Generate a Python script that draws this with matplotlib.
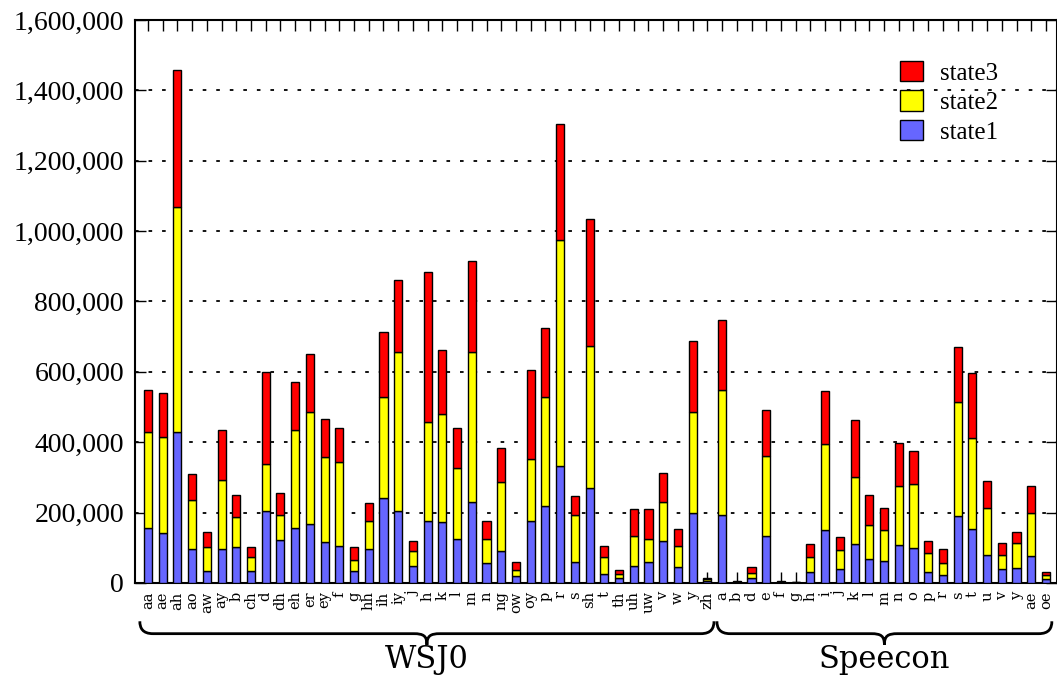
import numpy as np
import matplotlib
matplotlib.use("Agg")
import matplotlib.pyplot as plt
from matplotlib.path import Path
from matplotlib.patches import PathPatch, Patch
import matplotlib.transforms as mtransforms
from matplotlib.ticker import FuncFormatter

# phone labels, WSJ0 first then Speecon
wsj_labels = ["aa", "ae", "ah", "ao", "aw", "ay", "b", "ch", "d", "dh", "eh", "er", "ey",
              "f", "g", "hh", "ih", "iy", "j", "h", "k", "l", "m", "n", "ng", "ow", "oy",
              "p", "r", "s", "sh", "t", "th", "uh", "uw", "v", "w", "y", "zh"]
spc_labels = ["a", "b", "d", "e", "f", "g", "h", "i", "j", "k", "l", "m", "n", "o", "p",
              "r", "s", "t", "u", "v", "y", "ae", "oe"]

# segment sizes (frames per state)
wsj_state1 = [156000, 142000, 429000, 97000, 34000, 97000, 102000, 34000, 205000, 122000,
              156000, 168000, 117000, 105000, 34000, 97000, 242000, 205000, 48000, 176000,
              173000, 125000, 230000, 57000, 91000, 20000, 176000, 219000, 333000, 60000,
              270000, 26000, 14000, 48000, 60000, 119000, 45000, 199000, 6000]
wsj_state2 = [273000, 273000, 640000, 139000, 68000, 196000, 86000, 40000, 133000, 71000,
              279000, 318000, 241000, 239000, 31000, 79000, 287000, 451000, 43000, 282000,
              307000, 202000, 426000, 68000, 196000, 17000, 176000, 310000, 642000, 133000,
              404000, 48000, 12000, 86000, 65000, 111000, 60000, 287000, 5000]
wsj_state3 = [120000, 125000, 389000, 74000, 43000, 142000, 62000, 28000, 262000, 63000,
              136000, 165000, 108000, 96000, 37000, 51000, 184000, 205000, 28000, 426000,
              182000, 113000, 259000, 51000, 97000, 23000, 253000, 196000, 329000, 54000,
              361000, 31000, 11000, 76000, 85000, 83000, 48000, 202000, 3000]

spc_state1 = [193000, 2000, 14000, 134000, 2000, 1000, 31000, 151000, 40000, 111000,
              68000, 63000, 108000, 100000, 31000, 23000, 190000, 153000, 80000, 40000,
              43000, 77000, 11000]
spc_state2 = [356000, 2000, 14000, 227000, 2000, 1000, 43000, 244000, 54000, 190000,
              97000, 88000, 168000, 181000, 54000, 34000, 324000, 259000, 133000, 40000,
              71000, 122000, 12000]
spc_state3 = [198000, 2000, 17000, 131000, 2000, 1000, 37000, 151000, 37000, 162000,
              85000, 62000, 122000, 94000, 34000, 40000, 157000, 185000, 77000, 34000,
              31000, 77000, 8000]

labels = wsj_labels + spc_labels
s1 = np.array(wsj_state1 + spc_state1)
s2 = np.array(wsj_state2 + spc_state2)
s3 = np.array(wsj_state3 + spc_state3)
x = np.arange(len(labels))

c1, c2, c3 = "#6666ff", "#ffff00", "#ff0000"

fig = plt.figure(figsize=(10.57, 6.79), dpi=100)
ax = fig.add_axes([135 / 1057, 1 - 583 / 679, 922 / 1057, 563 / 679])

bw = 0.55
ax.bar(x, s1, bw, color=c1, edgecolor="black", linewidth=1.0, zorder=3)
ax.bar(x, s2, bw, bottom=s1, color=c2, edgecolor="black", linewidth=1.0, zorder=3)
ax.bar(x, s3, bw, bottom=s1 + s2, color=c3, edgecolor="black", linewidth=1.0, zorder=3)

ax.set_xlim(-0.88, len(labels) - 1 + 0.75)
ax.set_ylim(0, 1600000)
ax.set_yticks(np.arange(0, 1600001, 200000))
ax.yaxis.set_major_formatter(FuncFormatter(lambda v, p: f"{int(v):,}"))
for t in ax.get_yticklabels():
    t.set_family("Liberation Serif")
    t.set_fontsize(20)

ax.set_xticks(x)
ax.set_xticklabels(labels, rotation=90, family="DejaVu Serif", fontsize=10.5)
ax.tick_params(axis="x", direction="in", length=8, top=True, bottom=True, pad=6, width=1)
ax.tick_params(axis="y", direction="in", length=8, left=True, right=True, pad=8, width=1)

for v in range(200000, 1600000, 200000):
    ax.axhline(v, color="black", linestyle=(0, (2, 5.5)), linewidth=1.3, zorder=1)

for sp in ax.spines.values():
    sp.set_linewidth(1.5)

# legend (state3 on top)
handles = [Patch(facecolor=c3, edgecolor="black"),
           Patch(facecolor=c2, edgecolor="black"),
           Patch(facecolor=c1, edgecolor="black")]
leg = ax.legend(handles, ["state3", "state2", "state1"], loc="upper left",
                bbox_to_anchor=(0.83, 0.928), frameon=False, borderpad=0,
                borderaxespad=0,
                prop={"family": "Liberation Serif", "size": 18},
                handlelength=0.9, handleheight=0.9, handletextpad=0.7,
                labelspacing=0.22)

# curly braces under the tick labels
trans = mtransforms.blended_transform_factory(ax.transData, ax.transAxes)


def brace(a, b, text):
    m = (a + b) / 2
    w = 0.9
    y0, y1, y2 = -0.068, -0.09, -0.11
    verts = [(a, y0),
             (a, y1 + 0.01), (a + 0.2 * w, y1), (a + w, y1),
             (m - w, y1),
             (m - 0.25 * w, y1), (m, y1 - 0.004), (m, y2),
             (m, y1 - 0.004), (m + 0.25 * w, y1), (m + w, y1),
             (b - w, y1),
             (b - 0.2 * w, y1), (b, y1 + 0.01), (b, y0)]
    codes = [Path.MOVETO,
             Path.CURVE4, Path.CURVE4, Path.CURVE4,
             Path.LINETO,
             Path.CURVE4, Path.CURVE4, Path.CURVE4,
             Path.CURVE4, Path.CURVE4, Path.CURVE4,
             Path.LINETO,
             Path.CURVE4, Path.CURVE4, Path.CURVE4]
    ax.add_patch(PathPatch(Path(verts, codes), transform=trans, fill=False,
                           edgecolor="black", linewidth=2, clip_on=False))
    ax.text(m, -0.136, text, transform=trans, ha="center", va="center",
            family="DejaVu Serif", fontsize=22)


nw = len(wsj_labels)
brace(-0.55, nw - 0.55, "WSJ0")
brace(nw - 0.35, len(labels) - 0.6, "Speecon")

fig.savefig("out.png", dpi=100)
